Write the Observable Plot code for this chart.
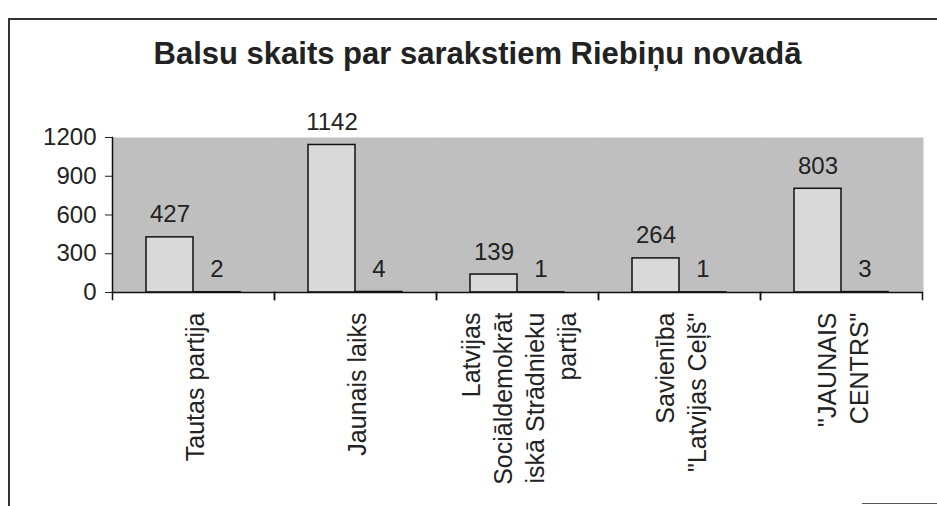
<!DOCTYPE html>
<html>
<head>
<meta charset="utf-8">
<script src="https://cdn.jsdelivr.net/npm/d3@7"></script>
<script src="https://cdn.jsdelivr.net/npm/@observablehq/plot@0.6"></script>
<style>
  body { margin: 0; background: #fff; font-family: "Liberation Sans", Arial, sans-serif; }
  #wrap { position: relative; width: 937px; height: 506px; overflow: hidden; }
  #border { position: absolute; left: 8px; top: 18px; right: -10px; bottom: -10px; border-left: 2px solid #333; border-top: 2px solid #333; pointer-events: none; }
  #br { position: absolute; left: 862px; top: 503px; width: 75px; height: 0; border-top: 1.5px solid #555; }
  #title { box-sizing: border-box; height: 95px; padding-top: 38px; padding-left: 18px; text-align: center;
           font-size: 31px; font-weight: bold; line-height: 31px; color: #222; white-space: nowrap; }
  #chart svg { display: block; }
</style>
</head>
<body>
<div id="wrap">
  <div id="title">Balsu skaits par sarakstiem Riebiņu novadā</div>
  <div id="chart"></div>
  <div id="border"></div>
  <div id="br"></div>
</div>
<script>
// Data
const parties = ["Tautas partija", "Jaunais laiks", "Latvijas Sociāldemokrātiskā Strādnieku partija", "Savienība \"Latvijas Ceļš\"", "\"JAUNAIS CENTRS\""];
const tickLabels = ["Tautas partija", "Jaunais laiks", "Latvijas\nSociāldemokrāt\niskā Strādnieku\npartija", "Savienība\n\"Latvijas Ceļš\"", "\"JAUNAIS\nCENTRS\""];
const series = ["Balsis", "Vietas"];
const votes = [427, 1142, 139, 264, 803];
const seats = [2, 4, 1, 1, 3];
const yTicks = [0, 300, 600, 900, 1200];

const data = parties.flatMap((p, i) => [
  {party: p, series: series[0], value: votes[i]},
  {party: p, series: series[1], value: seats[i]}
]);

const chart = Plot.plot({
  width: 937,
  height: 411,
  marginLeft: 110,
  marginRight: 13,
  marginTop: 42,
  marginBottom: 214,
  style: {fontFamily: '"Liberation Sans", Arial, sans-serif', fontSize: "24px", color: "#222", background: "transparent"},
  fx: {domain: parties, padding: 0, label: null, axis: null},
  x: {domain: series, paddingInner: 0, paddingOuter: 0.7, axis: null},
  y: {domain: [0, 1200], ticks: yTicks, tickSize: 7, tickPadding: 9, tickFormat: d => String(d), label: null},
  marks: [
    Plot.frame({fill: "#bfbfbf", insetRight: -1}),
    Plot.barY(data, {fx: "party", x: "series", y: "value", fill: "#d9d9d9", stroke: "#111", strokeWidth: 1.5}),
    Plot.text(data, {fx: "party", x: "series", y: "value", text: d => String(d.value), lineAnchor: "bottom", dy: -15, fontSize: 24, fill: "#222"}),
    Plot.ruleY([0], {stroke: "#111", strokeWidth: 1.5}),
    Plot.frame({anchor: "left", fx: () => parties[0], stroke: "#111", strokeWidth: 1.5}),
    Plot.frame({anchor: "left", insetTop: 155, insetBottom: -7, stroke: "#111", strokeWidth: 1.5}),
    Plot.frame({anchor: "right", insetTop: 155, insetBottom: -7, stroke: "#111", strokeWidth: 1.5}),
    Plot.axisFx({anchor: "bottom", tickSize: 0, tickPadding: 20, tickRotate: -90, fontSize: 25, lineHeight: 1.28,
                 tickFormat: p => tickLabels[parties.indexOf(p)], label: null, fill: "#222"})
  ]
});
document.getElementById("chart").append(chart);
</script>
</body>
</html>
